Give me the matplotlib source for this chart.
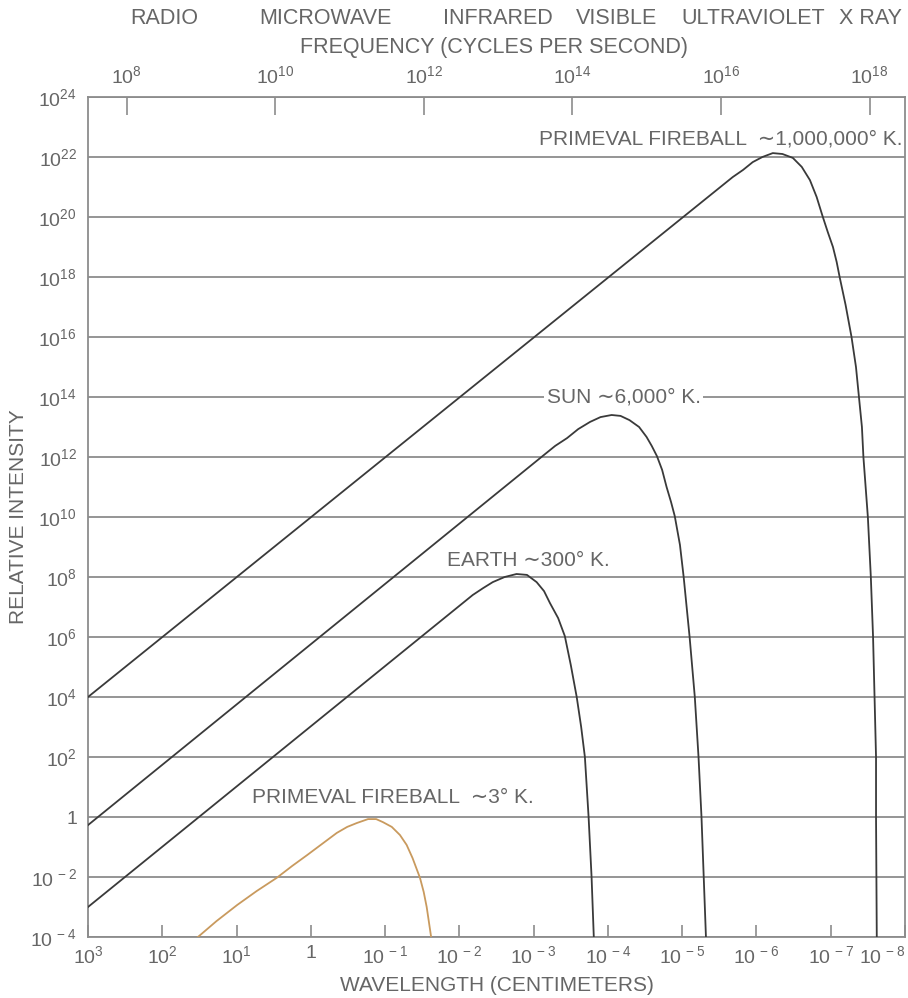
import matplotlib
matplotlib.use('Agg')
import matplotlib.pyplot as plt
import numpy as np

plt.rcParams['font.family'] = ['Liberation Sans', 'DejaVu Sans']
plt.rcParams['mathtext.fontset'] = 'custom'
plt.rcParams['mathtext.rm'] = 'Liberation Sans'

W, H = 908, 998
TXT = '#666666'
LINE = '#3a3a3a'
GRID = '#8c8c8c'

# curves, as log10(wavelength in cm) / log10(relative intensity)
hot_wave = [3.00, -5.68, -5.82, -5.95, -6.08, -6.22, -6.35, -6.49, -6.61, -6.72,
            -6.81, -6.89, -6.96, -7.03, -7.08, -7.12, -7.20, -7.28, -7.34, -7.38,
            -7.42, -7.44, -7.50, -7.54, -7.57, -7.59, -7.61, -7.61, -7.62]
hot_inten = [4.0, 21.33, 21.57, 21.83, 22.0, 22.13, 22.1, 21.97, 21.67, 21.23,
             20.67, 20.03, 19.5, 19.0, 18.5, 18.0, 17.07, 16.0, 15.0, 14.0,
             13.0, 12.0, 10.0, 8.0, 6.0, 4.0, 2.0, 0.0, -4.0]

sun_wave = [3.00, -3.12, -3.29, -3.45, -3.60, -3.76, -3.90, -4.05, -4.17, -4.29,
            -4.42, -4.52, -4.59, -4.66, -4.73, -4.79, -4.85, -4.90, -4.97, -5.02,
            -5.06, -5.10, -5.17, -5.22, -5.26, -5.29, -5.32]
sun_inten = [-0.27, 12.03, 12.37, 12.63, 12.93, 13.17, 13.33, 13.40, 13.37, 13.23,
             13.0, 12.67, 12.37, 12.03, 11.57, 11.0, 10.5, 10.03, 9.07, 8.0,
             7.0, 6.0, 4.0, 2.0, 0.0, -2.0, -4.0]

earth_wave = [3.00, -2.18, -2.32, -2.45, -2.61, -2.77, -2.91, -3.04, -3.14, -3.22,
              -3.33, -3.42, -3.50, -3.58, -3.64, -3.69, -3.74, -3.78, -3.81]
earth_inten = [-3.0, 7.40, 7.63, 7.83, 8.0, 8.10, 8.07, 7.83, 7.53, 7.13,
               6.63, 6.03, 5.07, 4.0, 3.0, 2.0, 0.0, -2.0, -4.0]

cold_wave = [1.52, 1.27, 0.99, 0.73, 0.46, 0.25, 0.05, -0.15, -0.35, -0.49, -0.62,
             -0.77, -0.88, -0.97, -1.09, -1.20, -1.29, -1.37, -1.47, -1.52, -1.56, -1.62]
cold_inten = [-4.0, -3.47, -2.93, -2.47, -2.03, -1.63, -1.27, -0.90, -0.53, -0.33, -0.20,
              -0.07, -0.07, -0.17, -0.33, -0.60, -0.93, -1.37, -2.03, -2.50, -3.0, -4.0]

y_exps = list(range(24, -5, -2))
wave_exps = list(range(3, -9, -1))
freq_exps = list(range(8, 19, 2))
bands = ['RADIO', 'MICROWAVE', 'INFRARED', 'VISIBLE', 'ULTRAVIOLET', 'X RAY']
band_px = [164, 325, 498, 617, 753, 870]
C = 3e10  # cm/s


def label(e):
    if e == 0:
        return '1'
    if e < 0:
        return r'$\mathregular{10^{\,-%d}}$' % -e
    return r'$\mathregular{10^{%d}}$' % e


fig = plt.figure(figsize=(W / 100, H / 100), dpi=100)
ax = fig.add_axes([88 / W, 1 - 937 / H, (905 - 88) / W, (937 - 97) / H])

ax.set_xscale('log')
ax.set_yscale('log')
ax.set_xlim(1e3, 1e-8)
ax.set_ylim(1e-4, 1e24)

for wv, it, col in [(hot_wave, hot_inten, LINE), (sun_wave, sun_inten, LINE),
                    (earth_wave, earth_inten, LINE), (cold_wave, cold_inten, '#c99a5e')]:
    ax.plot(10.0 ** np.array(wv), 10.0 ** np.array(it), color=col, lw=1.3,
            solid_joinstyle='round', zorder=3)

ax.set_yticks([10.0 ** e for e in y_exps])
ax.set_yticklabels([label(e) for e in y_exps])
ax.yaxis.set_minor_locator(matplotlib.ticker.NullLocator())
ax.tick_params(axis='y', length=0, pad=8, labelsize=14, labelcolor=TXT)
ax.grid(axis='y', color=GRID, lw=1.3, zorder=1)
ax.grid(axis='x', visible=False)

ax.set_xticks([10.0 ** e for e in wave_exps])
ax.set_xticklabels([label(e) for e in wave_exps])
ax.xaxis.set_minor_locator(matplotlib.ticker.NullLocator())
ax.tick_params(axis='x', direction='in', length=9, width=1.2, color=GRID,
               pad=6, labelsize=14, labelcolor=TXT)
ax.get_xticklabels()[-1].set_ha('right')
ax.set_xlabel('WAVELENGTH (CENTIMETERS)', fontsize=15, color=TXT)
ax.xaxis.set_label_coords(0.5, -0.047)
ax.set_ylabel('RELATIVE INTENSITY', fontsize=15, color=TXT)
ax.yaxis.set_label_coords(-0.074, 0.5)

for s in ax.spines.values():
    s.set_color(GRID)
    s.set_linewidth(1.3)

# frequency along the top
ax2 = ax.twiny()
ax2.set_xscale('log')
ax2.set_xlim(C / 1e3, C / 1e-8)
ax2.set_xticks([10.0 ** e for e in freq_exps])
ax2.set_xticklabels([label(e) for e in freq_exps])
ax2.xaxis.set_minor_locator(matplotlib.ticker.NullLocator())
ax2.tick_params(axis='x', direction='in', length=13, width=1.2, color=GRID,
                pad=7, labelsize=14, labelcolor=TXT)
for s in ax2.spines.values():
    s.set_visible(False)

fig.text(494 / W, 1 - 47 / H, 'FREQUENCY (CYCLES PER SECOND)', ha='center',
         va='center', fontsize=15.5, color=TXT)
for b, px in zip(bands, band_px):
    fig.text(px / W, 1 - 18 / H, b, ha='center', va='center', fontsize=15.5, color=TXT)

# curve labels
kw = dict(fontsize=15, color=TXT, zorder=4)
ax.text(10 ** -7.97, 10 ** 22.6, 'PRIMEVAL FIREBALL  \u223c1,000,000\u00b0 K.',
        ha='right', va='center', **kw)
ax.text(10 ** -4.21, 10 ** 14.0, 'SUN \u223c6,000\u00b0 K.', ha='center', va='center',
        bbox=dict(fc='white', ec='none', pad=2), **kw)
ax.text(10 ** -1.83, 10 ** 8.55, 'EARTH \u223c300\u00b0 K.', ha='left', va='center', **kw)
ax.text(10 ** 0.79, 10 ** 0.65, 'PRIMEVAL FIREBALL  \u223c3\u00b0 K.', ha='left',
        va='center', **kw)

fig.savefig('out.png', dpi=100)
